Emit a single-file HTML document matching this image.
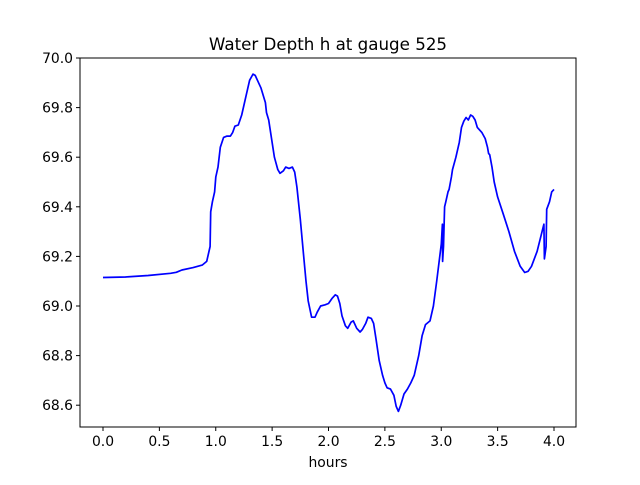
<!DOCTYPE html>
<html><head><meta charset="utf-8"><style>
body{margin:0;background:#fff;}
svg{font-family:"DejaVu Sans","Liberation Sans",sans-serif;}
</style></head><body>
<svg id="chart" width="640" height="480">
<rect width="640" height="480" fill="#fff"/>
<text x="328" y="50" text-anchor="middle" font-size="16.7">Water Depth h at gauge 525</text>
<g id="axes"></g>
<text x="328" y="467" text-anchor="middle" font-size="13.9">hours</text>
</svg>
<script>
const times=[0,0.2,0.4,0.6,0.65,0.7,0.8,0.88,0.92,0.95,0.955,0.97,0.99,1.0,1.02,1.04,1.07,1.1,1.13,1.15,1.17,1.2,1.23,1.27,1.3,1.33,1.35,1.38,1.4,1.44,1.45,1.47,1.5,1.52,1.55,1.57,1.6,1.62,1.65,1.68,1.7,1.72,1.75,1.78,1.8,1.82,1.85,1.88,1.9,1.93,1.97,2.0,2.03,2.06,2.08,2.1,2.12,2.15,2.17,2.2,2.22,2.25,2.28,2.3,2.33,2.35,2.38,2.4,2.42,2.45,2.48,2.5,2.52,2.55,2.58,2.6,2.62,2.64,2.67,2.7,2.73,2.76,2.8,2.83,2.86,2.9,2.93,2.96,3.0,3.01,3.012,3.02,3.03,3.04,3.06,3.07,3.09,3.1,3.13,3.16,3.18,3.2,3.22,3.24,3.26,3.28,3.3,3.32,3.36,3.39,3.41,3.42,3.43,3.45,3.47,3.5,3.55,3.6,3.65,3.7,3.74,3.77,3.8,3.85,3.91,3.915,3.93,3.935,3.96,3.98,4.0];
const depths=[69.115,69.117,69.123,69.132,69.136,69.145,69.155,69.165,69.18,69.24,69.38,69.42,69.46,69.52,69.56,69.64,69.68,69.685,69.685,69.70,69.725,69.73,69.77,69.85,69.91,69.935,69.93,69.9,69.88,69.82,69.78,69.75,69.66,69.6,69.55,69.535,69.545,69.56,69.555,69.56,69.54,69.48,69.35,69.2,69.1,69.02,68.955,68.955,68.975,69.0,69.005,69.01,69.03,69.045,69.04,69.01,68.96,68.92,68.91,68.935,68.94,68.91,68.895,68.905,68.93,68.955,68.95,68.93,68.87,68.78,68.72,68.69,68.67,68.665,68.64,68.595,68.575,68.6,68.645,68.665,68.69,68.72,68.8,68.88,68.925,68.94,69.0,69.1,69.25,69.33,69.18,69.24,69.4,69.42,69.46,69.47,69.52,69.55,69.6,69.66,69.72,69.745,69.76,69.75,69.77,69.765,69.75,69.72,69.7,69.675,69.64,69.615,69.61,69.56,69.5,69.44,69.37,69.3,69.22,69.16,69.135,69.14,69.16,69.22,69.33,69.19,69.24,69.39,69.42,69.46,69.47];
const xTicks=[0,0.5,1,1.5,2,2.5,3,3.5,4];
const xLabels=["0.0","0.5","1.0","1.5","2.0","2.5","3.0","3.5","4.0"];
const yTicks=[68.6,68.8,69.0,69.2,69.4,69.6,69.8,70.0];
const yLabels=["68.6","68.8","69.0","69.2","69.4","69.6","69.8","70.0"];
const L=80,R=576,T=58,B=427;
const xs=t=>103+t*112.75;
const ys=v=>58+(70-v)*248;
const NS="http://www.w3.org/2000/svg";
const g=document.getElementById('axes');
function mk(tag,attrs){const e=document.createElementNS(NS,tag);for(const k in attrs)e.setAttribute(k,attrs[k]);g.appendChild(e);return e;}
xTicks.forEach((t,i)=>{
  const ln=mk('line',{x1:xs(t),x2:xs(t),y1:B,y2:B+4,stroke:'#000'});
  
  
  const tx=mk('text',{x:xs(t),y:B+19,'text-anchor':'middle','font-size':'13.9'});
  tx.textContent=xLabels[i];
  
  
});
yTicks.forEach((v,i)=>{
  const ln=mk('line',{x1:L-4,x2:L,y1:ys(v),y2:ys(v),stroke:'#000'});
  
  
  const tx=mk('text',{x:L-7,y:ys(v)+5,'text-anchor':'end','font-size':'13.9'});
  tx.textContent=yLabels[i];
  
  
});
const p=mk('polyline',{points:times.map((t,i)=>xs(t).toFixed(1)+','+ys(depths[i]).toFixed(1)).join(' '),fill:'none',stroke:'#0000ff','stroke-width':'1.7','stroke-linejoin':'round'});


const f=mk('rect',{x:L,y:T,width:R-L,height:B-T,fill:'none',stroke:'#000','stroke-width':'1'});


</script>
</body></html>
